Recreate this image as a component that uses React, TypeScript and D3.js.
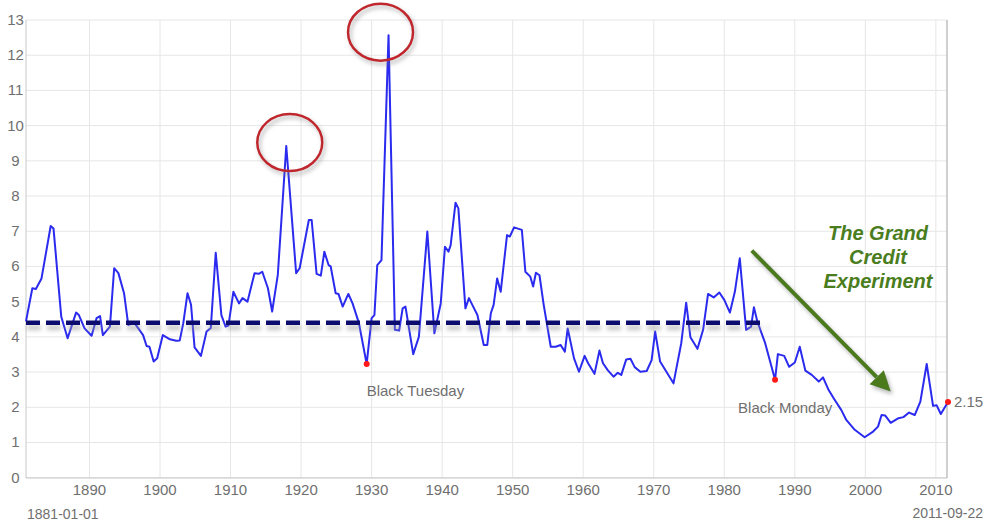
import React from "react";
import * as d3 from "d3";

const years = [
  1881.0, 1881.9, 1882.4, 1883.2, 1884.5, 1884.9, 1886.0, 1886.9, 1888.1, 1888.5,
  1889.3, 1890.3, 1891.0, 1891.5, 1891.9, 1892.9, 1893.5, 1894.1, 1894.9, 1895.5,
  1896.4, 1897.6, 1898.1, 1898.5, 1899.1, 1899.6, 1900.4, 1901.4, 1902.3, 1902.8,
  1903.3, 1903.9, 1904.4, 1904.9, 1905.8, 1906.6, 1907.2, 1907.9, 1908.7, 1909.3,
  1909.7, 1910.4, 1911.2, 1911.7, 1912.4, 1913.4, 1914.0, 1914.5, 1915.3, 1915.9,
  1916.7, 1917.9, 1919.3, 1919.8, 1921.1, 1921.5, 1922.2, 1922.8, 1923.3, 1923.9,
  1924.2, 1924.9, 1925.3, 1925.9, 1926.7, 1927.3, 1928.2, 1929.3, 1930.0, 1930.4,
  1930.8, 1931.4, 1932.4, 1933.3, 1933.9, 1934.4, 1934.8, 1935.9, 1936.7, 1937.9,
  1938.9, 1939.8, 1940.4, 1940.9, 1941.2, 1941.9, 1942.3, 1943.3, 1943.8, 1944.4,
  1945.0, 1945.9, 1946.4, 1946.9, 1947.3, 1947.8, 1948.3, 1949.2, 1949.6, 1950.2,
  1951.3, 1951.8, 1952.5, 1952.9, 1953.3, 1953.8, 1954.4, 1955.4, 1956.1, 1956.8,
  1957.4, 1957.8, 1958.7, 1959.4, 1960.2, 1960.7, 1961.6, 1962.3, 1962.8, 1963.5,
  1964.3, 1964.9, 1965.4, 1966.1, 1966.7, 1967.3, 1968.1, 1969.0, 1969.7, 1970.2,
  1970.9, 1972.8, 1973.9, 1974.6, 1975.2, 1976.2, 1977.0, 1977.7, 1978.5, 1979.3,
  1980.0, 1980.8, 1981.5, 1982.2, 1983.1, 1983.8, 1984.2, 1984.7, 1985.8, 1987.2,
  1987.6, 1988.5, 1989.2, 1990.0, 1990.7, 1991.5, 1992.4, 1993.4, 1994.0, 1994.8,
  1995.6, 1996.6, 1997.3, 1998.5, 1999.9, 2001.1, 2001.8, 2002.3, 2002.8, 2003.6,
  2004.7, 2005.4, 2006.2, 2007.0, 2007.8, 2008.7, 2009.6, 2010.1, 2010.7, 2011.72,
];

const rates = [
  4.44, 5.38, 5.36, 5.66, 7.15, 7.08, 4.57, 3.96, 4.69, 4.62,
  4.24, 4.03, 4.53, 4.59, 4.05, 4.29, 5.95, 5.81, 5.24, 4.34,
  4.39, 4.05, 3.74, 3.72, 3.30, 3.39, 4.05, 3.93, 3.89, 3.90,
  4.39, 5.24, 4.91, 3.70, 3.46, 4.15, 4.25, 6.39, 4.62, 4.29,
  4.32, 5.28, 4.95, 5.10, 5.00, 5.81, 5.79, 5.85, 5.38, 4.72,
  5.76, 9.42, 5.81, 5.95, 7.32, 7.32, 5.79, 5.74, 6.42, 6.04,
  6.00, 5.24, 5.22, 4.86, 5.22, 4.95, 4.39, 3.23, 4.53, 4.62,
  6.04, 6.18, 12.57, 4.20, 4.18, 4.81, 4.86, 3.51, 4.00, 6.99,
  4.10, 4.95, 6.56, 6.42, 6.60, 7.81, 7.65, 4.81, 5.10, 4.86,
  4.62, 3.77, 3.77, 4.67, 4.91, 5.66, 5.28, 6.89, 6.85, 7.11,
  7.04, 5.85, 5.71, 5.43, 5.82, 5.75, 4.91, 3.72, 3.72, 3.77,
  3.58, 4.24, 3.39, 3.01, 3.46, 3.25, 2.95, 3.61, 3.25, 3.05,
  2.87, 2.98, 2.92, 3.36, 3.38, 3.14, 3.01, 3.03, 3.34, 4.15,
  3.30, 2.68, 3.82, 4.97, 3.99, 3.66, 4.20, 5.22, 5.12, 5.26,
  5.05, 4.69, 5.28, 6.23, 4.20, 4.29, 4.84, 4.43, 3.82, 2.78,
  3.51, 3.46, 3.15, 3.27, 3.72, 3.04, 2.92, 2.73, 2.85, 2.49,
  2.23, 1.92, 1.64, 1.36, 1.15, 1.31, 1.45, 1.78, 1.77, 1.56,
  1.69, 1.72, 1.85, 1.78, 2.16, 3.23, 2.04, 2.06, 1.81, 2.15,
];

const yTicks = [0, 1, 2, 3, 4, 5, 6, 7, 8, 9, 10, 11, 12, 13];
const xTicks = [1890, 1900, 1910, 1920, 1930, 1940, 1950, 1960, 1970, 1980, 1990, 2000, 2010];
const startLabel = "1881-01-01";
const endLabel = "2011-09-22";

// Average level (dashed) and its span
const averageLevel = 4.4;
const averageSpan = [1881, 1985.8];

// Red markers with labels
const markerYears = [1929.3, 1987.2, 2011.72];
const markerValues = [3.23, 2.78, 2.15];
const markerLabels = ["Black Tuesday", "Black Monday", "2.15"];

// Circled peaks
const peakYears = [1917.9, 1932.4];
const peakValues = [9.42, 12.57];

// Arrow (year, value) from -> to
const arrowFrom = [1983.9, 6.45];
const arrowTo = [2003.6, 2.45];
const noteLines = ["The Grand", "Credit", "Experiment"];

const W = 983;
const H = 521;

export default function App() {
  const x = d3.scaleLinear().domain([1881, 2011.72]).range([26, 948]);
  const y = d3.scaleLinear().domain([0, 13]).range([477.7, 20]);

  const pts = years.map((yr, i) => [yr, rates[i]] as [number, number]);
  const line = d3
    .line<[number, number]>()
    .x((d) => x(d[0]))
    .y((d) => y(d[1]));

  const font = "'Liberation Sans', Arial, Helvetica, sans-serif";
  const grey = "#6f6f6f";

  const ax1 = x(arrowFrom[0]);
  const ay1 = y(arrowFrom[1]);
  const ax2 = x(arrowTo[0]);
  const ay2 = y(arrowTo[1]);
  const ang = Math.atan2(ay2 - ay1, ax2 - ax1);
  const headLen = 20;
  const headW = 10;
  const bx = ax2 - headLen * Math.cos(ang);
  const by = ay2 - headLen * Math.sin(ang);
  const head = [
    [ax2, ay2],
    [bx + headW * Math.sin(ang), by - headW * Math.cos(ang)],
    [bx - headW * Math.sin(ang), by + headW * Math.cos(ang)],
  ];

  const labelOffsets = [
    [0, 32, "start"],
    [-37, 33, "start"],
    [6, 5, "start"],
  ] as [number, number, string][];

  const avgY = y(averageLevel);

  return (
    <svg
      width={W}
      height={H}
      style={{ position: "absolute", left: 0, top: 0, background: "#fff" }}
    >
      <defs>
        <filter id="shadow" x="-20%" y="-20%" width="140%" height="160%">
          <feDropShadow dx="2" dy="3" stdDeviation="2" floodColor="#777" floodOpacity="0.55" />
        </filter>
        <filter id="blur" filterUnits="userSpaceOnUse" x="0" y="0" width={W} height={H}>
          <feGaussianBlur stdDeviation="2" />
        </filter>
      </defs>

      {/* gridlines */}
      {yTicks.map((t) => (
        <line key={"gy" + t} x1={26} x2={947} y1={y(t)} y2={y(t)} stroke="#e6e6e6" strokeWidth={1} />
      ))}
      {xTicks.map((t) => (
        <line key={"gx" + t} x1={x(t)} x2={x(t)} y1={20} y2={477.7} stroke="#e6e6e6" strokeWidth={1} />
      ))}
      {/* axes / border */}
      <line x1={26} x2={26} y1={20} y2={478} stroke="#c8c8c8" strokeWidth={1} />
      <line x1={26} x2={947} y1={478} y2={478} stroke="#c8c8c8" strokeWidth={1} />
      <line x1={947} x2={947} y1={20} y2={478} stroke="#c0c0c0" strokeWidth={1.5} />

      {/* y tick labels */}
      {yTicks.map((t) => (
        <text key={"ty" + t} x={15.5} y={y(t) + 5} textAnchor="middle" fontFamily={font} fontSize={15} fill={grey}>
          {t}
        </text>
      ))}
      {/* x tick labels */}
      {xTicks.map((t) => (
        <text key={"tx" + t} x={x(t)} y={495} textAnchor="middle" fontFamily={font} fontSize={15} fill={grey}>
          {t}
        </text>
      ))}
      <text x={27} y={519} fontFamily={font} fontSize={14} fill={grey}>
        {startLabel}
      </text>
      <text x={983} y={518} textAnchor="end" fontFamily={font} fontSize={14} fill={grey}>
        {endLabel}
      </text>

      {/* data line */}
      <path d={line(pts) || ""} fill="none" stroke="#2b2bef" strokeWidth={2} strokeLinejoin="round" />

      {/* average dashed line with its shadow */}
      <line
        x1={x(averageSpan[0]) + 1}
        x2={x(averageSpan[1]) + 3}
        y1={avgY + 5}
        y2={avgY + 5}
        stroke="#9a9a9a"
        strokeOpacity={0.6}
        strokeWidth={4.5}
        strokeDasharray="14 6"
        filter="url(#blur)"
      />
      <line
        x1={x(averageSpan[0])}
        x2={x(averageSpan[1])}
        y1={avgY}
        y2={avgY}
        stroke="#0c0c6e"
        strokeWidth={4.5}
        strokeDasharray="14 6"
      />

      {/* circles around peaks */}
      {peakYears.map((py, i) => (
        <ellipse
          key={"pk" + i}
          cx={x(py) + (i === 0 ? 3.5 : -8)}
          cy={y(peakValues[i]) - (i === 0 ? 3.5 : 3)}
          rx={32.5}
          ry={28.5}
          fill="none"
          stroke="#c0282d"
          strokeWidth={2.5}
          filter="url(#shadow)"
        />
      ))}

      {/* markers */}
      {markerYears.map((my, i) => (
        <g key={"mk" + i}>
          <circle cx={x(my)} cy={y(markerValues[i])} r={3} fill="#ff1a1a" />
          <text
            x={x(my) + labelOffsets[i][0]}
            y={y(markerValues[i]) + labelOffsets[i][1]}
            textAnchor={labelOffsets[i][2] as any}
            fontFamily={font}
            fontSize={15}
            fill={grey}
          >
            {markerLabels[i]}
          </text>
        </g>
      ))}

      {/* green arrow */}
      <g filter="url(#shadow)">
        <line x1={ax1} y1={ay1} x2={bx} y2={by} stroke="#4b7a1f" strokeWidth={4} />
        <polygon points={head.map((p) => p.join(",")).join(" ")} fill="#4b7a1f" />
      </g>

      {/* annotation text */}
      {noteLines.map((l, i) => (
        <text
          key={"nl" + i}
          x={878}
          y={240 + i * 24}
          textAnchor="middle"
          fontFamily={font}
          fontSize={20}
          fontWeight="bold"
          fontStyle="italic"
          fill="#4a7d20"
        >
          {l}
        </text>
      ))}
    </svg>
  );
}
